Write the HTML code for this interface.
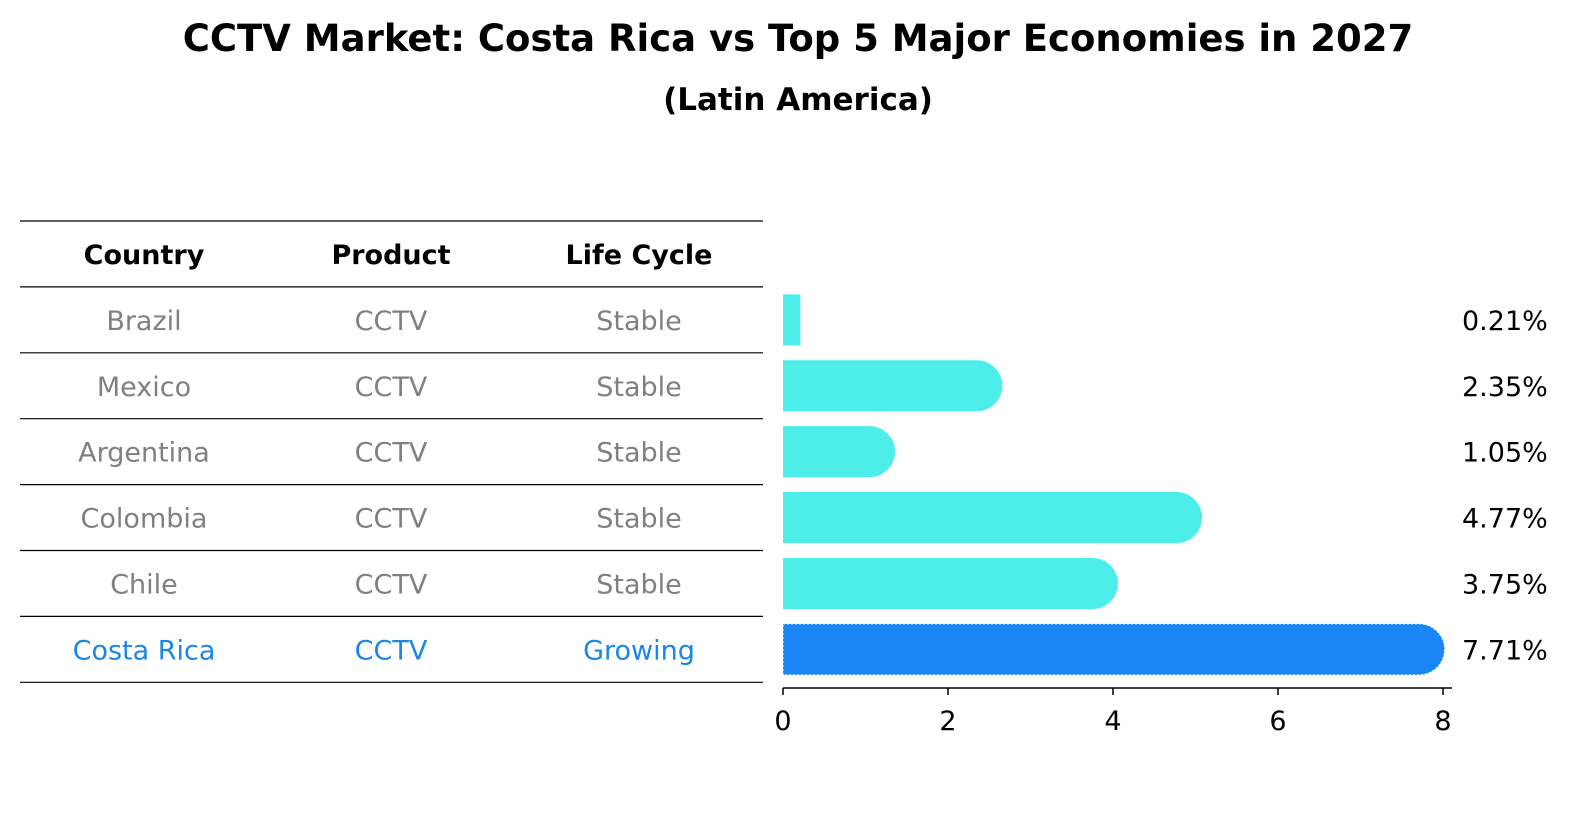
<!DOCTYPE html>
<html><head><meta charset="utf-8"><style>
body{margin:0;background:#fff;}
svg{display:block;font-family:"DejaVu Sans","Liberation Sans",sans-serif;}
</style></head><body>
<svg id="chart" width="1586" height="823" viewBox="0 0 1586 823">
<text x="798" y="51" text-anchor="middle" font-size="37" font-weight="bold">CCTV Market: Costa Rica vs Top 5 Major Economies in 2027</text>
<text x="798" y="110" text-anchor="middle" font-size="31" font-weight="bold">(Latin America)</text>
<g id="table"></g>
<g id="bars"></g>
</svg>
<script>
const countries=["Brazil","Mexico","Argentina","Colombia","Chile","Costa Rica"];
const products=["CCTV","CCTV","CCTV","CCTV","CCTV","CCTV"];
const lifecycle=["Stable","Stable","Stable","Stable","Stable","Growing"];
const values=[0.21,2.35,1.05,4.77,3.75,7.71];
const ticks=[0,2,4,6,8];
const NS="http://www.w3.org/2000/svg";
function mk(t,a,p){const e=document.createElementNS(NS,t);for(const k in a)e.setAttribute(k,a[k]);p.appendChild(e);return e;}
const tb=document.getElementById('table'),bg=document.getElementById('bars');
const rowH=65.9, top0=221;
const cols=[144,391,639];
for(let i=0;i<=countries.length+1;i++){
  const l=mk('line',{x1:20,x2:763,y1:top0+i*rowH,y2:top0+i*rowH,stroke:'#000','stroke-width':1.2},tb);
  
  
}
["Country","Product","Life Cycle"].forEach((h,j)=>{
  const t=mk('text',{x:cols[j],y:top0+rowH/2+10,'text-anchor':'middle','font-size':27,'font-weight':'bold'},tb);
  t.textContent=h;
  
  
});
countries.forEach((c,i)=>{
  const last=i===countries.length-1;
  const col=last?'#1a86e8':'#808080';
  [c,products[i],lifecycle[i]].forEach((v,j)=>{
    const t=mk('text',{x:cols[j],y:top0+rowH*(i+1)+rowH/2+10,'text-anchor':'middle','font-size':27,fill:col},tb);
    t.textContent=v;
    
    
  });
});
const x0=783,xs=82.5;const X=v=>x0+v*xs;
const bh=51;
countries.forEach((c,i)=>{
  const cy=top0+rowH*(i+1)+rowH/2;
  const last=i===countries.length-1;
  const col=last?'#1a86f5':'#4deeea';
  const xe=X(values[i]);
  const g=mk('g',{},bg);
  
  
  const r=bh/2;
  let d;
  if(values[i]>0.5){
    d=`M${x0},${cy-r} L${xe},${cy-r} A${r},${r} 0 0 1 ${xe},${cy+r} L${x0},${cy+r} Z`;
  } else {
    d=`M${x0},${cy-r} L${xe},${cy-r} L${xe},${cy+r} L${x0},${cy+r} Z`;
  }
  mk('path',{d:d,fill:col},g);
  if(last) mk('path',{d:d,fill:'none',stroke:'#fff','stroke-width':1,'stroke-dasharray':'2 2'},g);
  const t=mk('text',{x:1462,y:cy+10,'font-size':27},bg);
  t.textContent=values[i].toFixed(2)+'%';
  
  
});
const ay=688;
const ax=mk('line',{x1:x0,x2:1452,y1:ay,y2:ay,stroke:'#000','stroke-width':1.5},bg);


ticks.forEach(v=>{
  mk('line',{x1:X(v),x2:X(v),y1:ay,y2:ay+7,stroke:'#000','stroke-width':1.5},bg);
  const t=mk('text',{x:X(v),y:ay+42,'text-anchor':'middle','font-size':27},bg);
  t.textContent=v;
  
  
});
</script>
</body></html>
